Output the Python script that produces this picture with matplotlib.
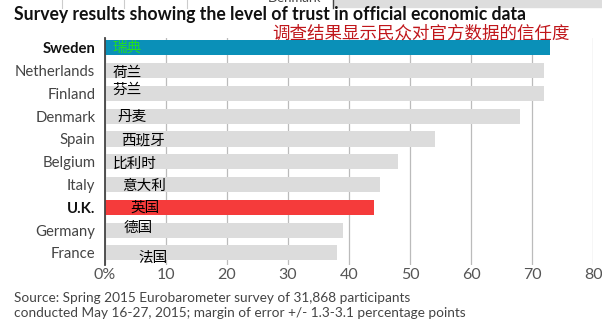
import matplotlib.pyplot as plt
from matplotlib.patches import Rectangle
from matplotlib.lines import Line2D

countries = ['Sweden', 'Netherlands', 'Finland', 'Denmark', 'Spain',
             'Belgium', 'Italy', 'U.K.', 'Germany', 'France']
labels_cn = ['瑞典', '荷兰', '芬兰', '丹麦', '西班牙',
             '比利时', '意大利', '英国', '德国', '法国']
trust = [73, 72, 72, 68, 54, 48, 45, 44, 39, 38]
xticks = [0, 10, 20, 30, 40, 50, 60, 70, 80]
xtick_labels = ['0%', '10', '20', '30', '40', '50', '60', '70', '80']

highlight = {'Sweden': '#0a90b8', 'U.K.': '#f53b3b'}
cn_color = {'Sweden': '#22dd22'}
# small offsets for the hand-placed chinese captions (x in data units, y in rows)
cn_dx = [1.2, 1.3, 1.3, 2.1, 2.6, 1.3, 2.8, 4.1, 3.1, 5.5]
cn_dy = [0.0, 0.1, -0.15, 0.05, 0.05, 0.1, 0.05, 0.0, -0.1, 0.2]

plt.rcParams['font.family'] = ['Lato', 'Noto Sans CJK SC', 'DejaVu Sans']

fig = plt.figure(figsize=(6.02, 3.27), dpi=100)
ax = fig.add_axes([0.1744, 0.19, 0.811, 0.694])

y = list(range(len(countries)))
colors = [highlight.get(c, '#dcdcdc') for c in countries]
ax.barh(y, trust, height=0.66, color=colors, zorder=2)

ax.set_xlim(0, 80)
ax.set_ylim(9.53, -0.44)
ax.set_xticks(xticks)
ax.set_xticklabels(xtick_labels, fontsize=11.5, color='#555555')
ax.tick_params(axis='x', length=0, pad=2)
ax.tick_params(axis='y', length=0, pad=7)
ax.set_yticks(y)
ax.set_yticklabels(countries, fontsize=10.7)
for tl, c in zip(ax.get_yticklabels(), countries):
    if c in highlight:
        tl.set_fontweight('bold')
        tl.set_color('#111111')
    else:
        tl.set_color('#444444')

ax.grid(axis='x', color='#bbbbbb', linewidth=0.9, zorder=0)
ax.set_axisbelow(True)
for s in ['top', 'right', 'bottom']:
    ax.spines[s].set_visible(False)
ax.spines['left'].set_color('#444444')
ax.spines['left'].set_linewidth(1.3)
ax.spines['left'].set_zorder(3)

for i, (c, t) in enumerate(zip(countries, labels_cn)):
    ax.text(cn_dx[i], i + cn_dy[i], t, fontsize=10.5, va='center', ha='left',
            color=cn_color.get(c, '#000000'), family=['Noto Sans CJK SC'], zorder=4)

fig.text(0.023, 0.955, 'Survey results showing the level of trust in official economic data',
         fontsize=12.7, fontweight='bold', color='#111111', va='center')
fig.text(0.452, 0.898, '调查结果显示民众对官方数据的信任度', fontsize=12.6,
         color='#c0161b', va='center', family=['Noto Sans CJK SC'])

fig.text(0.023, 0.088, 'Source: Spring 2015 Eurobarometer survey of 31,868 participants',
         fontsize=9.8, color='#444444', va='center')
fig.text(0.023, 0.043, 'conducted May 16-27, 2015; margin of error +/- 1.3-3.1 percentage points',
         fontsize=9.8, color='#444444', va='center')

# remnant of the neighbouring graphic along the top edge
fig.add_artist(Rectangle((0.553, 0.978), 0.447, 0.03, transform=fig.transFigure,
                         color='#dddddd', zorder=0))
fig.add_artist(Line2D([0.553, 0.553], [0.975, 1.0], transform=fig.transFigure,
                      color='#444444', linewidth=1.0))
for xf in [0.103, 0.206, 0.311]:
    fig.add_artist(Line2D([xf, xf], [0.975, 1.0], transform=fig.transFigure,
                          color='#cccccc', linewidth=0.8))
fig.text(0.49, 1.005, 'Denmark', fontsize=9.5, color='#444444', ha='center', va='center')

fig.savefig('out.png', dpi=100, facecolor='white')
